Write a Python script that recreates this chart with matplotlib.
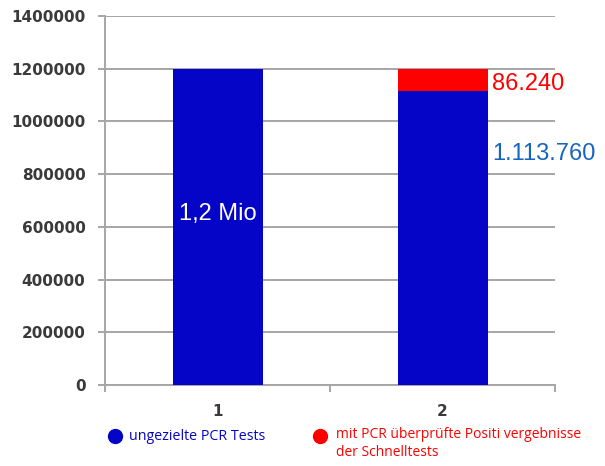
import matplotlib
matplotlib.use("Agg")
import matplotlib.pyplot as plt
from matplotlib.lines import Line2D

categories = ["1", "2"]
untargeted = [1200000, 1113760]
verified_positive = [0, 86240]
yticks = [0, 200000, 400000, 600000, 800000, 1000000, 1200000, 1400000]
bar_labels = ["1,2 Mio", "86.240", "1.113.760"]
legend_labels = ["ungezielte PCR Tests", "mit PCR überprüfte Positi vergebnisse\nder Schnelltests"]

BLUE = "#0505C8"
RED = "#FF0000"
GRID = "#A6A6A6"

fig = plt.figure(figsize=(6.05, 4.66), dpi=100)
ax = fig.add_axes([105/605, 1-385/466, (555-105)/605, (385-16)/466])

x = [1, 2]
ax.bar(x, untargeted, width=0.4, color=BLUE, zorder=3)
ax.bar(x, verified_positive, bottom=untargeted, width=0.4, color=RED, zorder=3)

ax.set_xlim(0.5, 2.5)
ax.set_ylim(0, 1400000)
ax.set_yticks(yticks)
ax.set_yticklabels([str(v) for v in yticks])
ax.yaxis.grid(True, color=GRID, linewidth=1.4, zorder=0)
ax.set_axisbelow(True)

ax.set_xticks([0.5, 1.5, 2.5])
ax.set_xticklabels([])
ax.set_xticks(x, minor=True)
ax.set_xticklabels(categories, minor=True)
ax.tick_params(axis="x", which="minor", length=0, pad=14)
ax.tick_params(axis="x", which="major", length=5, color=GRID, width=1.4, direction="out")
ax.tick_params(axis="y", length=5, color=GRID, width=1.4, pad=9)
for lbl in ax.get_yticklabels() + ax.get_xticklabels(minor=True):
    lbl.set_fontweight("bold")
    lbl.set_fontsize(11)
    lbl.set_color("#3A3A3A")
    lbl.set_family("DejaVu Sans")

for s in ["top", "right"]:
    ax.spines[s].set_visible(False)
for s in ["left", "bottom"]:
    ax.spines[s].set_color(GRID)
    ax.spines[s].set_linewidth(1.4)

ax.text(x[0], 660000, bar_labels[0], color="white", fontsize=17,
        family="Liberation Sans", ha="center", va="center_baseline", zorder=4)
ax.text(x[1] + 0.22, untargeted[1] + verified_positive[1] / 2 - 4000, bar_labels[1], color=RED,
        fontsize=17, family="Liberation Sans", ha="left", va="center_baseline", zorder=4)
ax.text(x[1] + 0.22, 886000, bar_labels[2], color="#1565C0",
        fontsize=17, family="Liberation Sans", ha="left", va="center_baseline", zorder=4)

# legend
fig.add_artist(Line2D([115/605], [1-436/466], marker="o", markersize=10,
                      color=BLUE, linestyle="none", transform=fig.transFigure))
fig.text(129/605, 1-436/466, legend_labels[0], color=BLUE, fontsize=10.3,
         family="Open Sans", va="center", ha="left")
fig.add_artist(Line2D([320/605], [1-436/466], marker="o", markersize=10,
                      color=RED, linestyle="none", transform=fig.transFigure))
fig.text(336/605, 1-427/466, legend_labels[1], color=RED, fontsize=10,
         family="Open Sans", va="top", ha="left", linespacing=1.25)

fig.savefig("out.png", dpi=100)
